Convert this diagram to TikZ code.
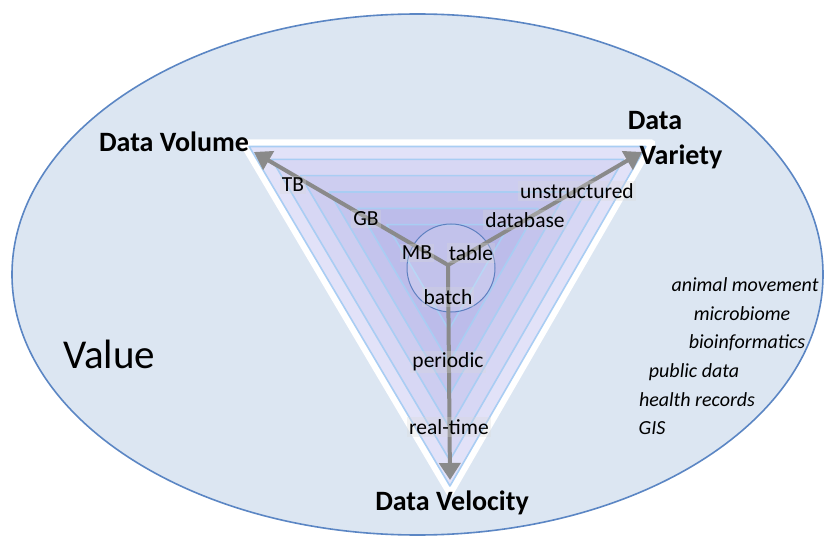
\documentclass[tikz,border=0pt]{standalone}
\usepackage{fontspec}
\setmainfont{Carlito}
\usetikzlibrary{arrows.meta,calc}
\definecolor{ellfill}{HTML}{DCE6F2}
\definecolor{ellline}{HTML}{5B86C4}
\definecolor{triedge}{HTML}{A9CDF3}
\definecolor{trifill}{HTML}{E2E2F8}
\definecolor{trideep}{HTML}{7C7CD6}
\definecolor{arrowgray}{HTML}{8A8A8A}
\definecolor{circline}{HTML}{5E80C0}
\tikzset{
  axis/.style={draw=arrowgray,line width=4pt,-{Triangle[length=17pt,width=21pt]}},
  lab/.style={font=\fontsize{21.5}{23}\selectfont,inner sep=2pt,fill=gray!30,fill opacity=0.3,text opacity=1},
  head/.style={font=\bfseries\fontsize{28}{30}\selectfont,inner sep=0pt},
  ital/.style={font=\itshape\fontsize{20}{22}\selectfont,inner sep=0pt},
}
\begin{document}
\begin{tikzpicture}[x=1pt,y=-1pt]
\useasboundingbox (0,0) rectangle (824,537);
\fill[white] (0,0) rectangle (824,537);
% outer ellipse
\begin{scope}
\clip (0,0) rectangle (824,537);
\draw[ellline,line width=1.6pt,fill=ellfill] (417.5,274.5) ellipse [x radius=405.5,y radius=260.5];
\end{scope}
% triangle
\coordinate (A) at (243,143);
\coordinate (B) at (652,143);
\coordinate (C) at (450,493);
\coordinate (G) at (448.3,259.7);
\draw[white,line width=7pt,line join=round,fill=trifill] (A)--(B)--(C)--cycle;
\foreach \s in {0.86,0.72,0.58,0.44,0.30}{
  \fill[trideep,opacity=0.10] ($(G)!\s!(A)$)--($(G)!\s!(B)$)--($(G)!\s!(C)$)--cycle;
}
\foreach \s in {0.97,0.86,0.72,0.58,0.44,0.30}{
  \draw[triedge,line width=1.6pt,line join=round] ($(G)!\s!(A)$)--($(G)!\s!(B)$)--($(G)!\s!(C)$)--cycle;
}
% circle
\node[circle,draw=circline,line width=1pt,fill=white,fill opacity=0.18,minimum size=88pt,inner sep=0pt] (hub) at (451,268) {};
% arrows
\coordinate (J) at (448,265);
\coordinate (vol) at (254,152);
\coordinate (var) at (642,152);
\coordinate (vel) at (450,480);
\draw[axis] (J) -- (vol);
\draw[axis] (J) -- (var);
\draw[axis] (J) -- (vel);
% labels
\node[lab] (tb) at (293,185) {TB};
\node[lab] (gb) at (366,219) {GB};
\node[lab] (mb) at (417,253) {MB};
\node[lab] (table) at (471,253) {table};
\node[lab] (database) at (525,220) {database};
\node[lab] (unstr) at (577,191) {unstructured};
\node[lab] (batch) at (448,297) {batch};
\node[lab] (periodic) at (448,362) {periodic};
\node[lab] (realtime) at (449,427) {real-time};
% headings
\node[head] (hvol) at (174,142) {Data Volume};
\node[head] (hdata) at (655,121) {Data};
\node[head] (hvar) at (681,157) {Variety};
\node[head] (hvel) at (452,503) {Data Velocity};
\node[font=\fontsize{41}{44}\selectfont,inner sep=0pt] (value) at (109,354) {Value};
% list
\node[ital] (l1) at (745,285) {animal movement};
\node[ital] (l2) at (742,314) {microbiome};
\node[ital] (l3) at (747,343) {bioinformatics};
\node[ital] (l4) at (694,372) {public data};
\node[ital] (l5) at (697,400) {health records};
\node[ital] (l6) at (652,428) {GIS};
\end{tikzpicture}
\end{document}
